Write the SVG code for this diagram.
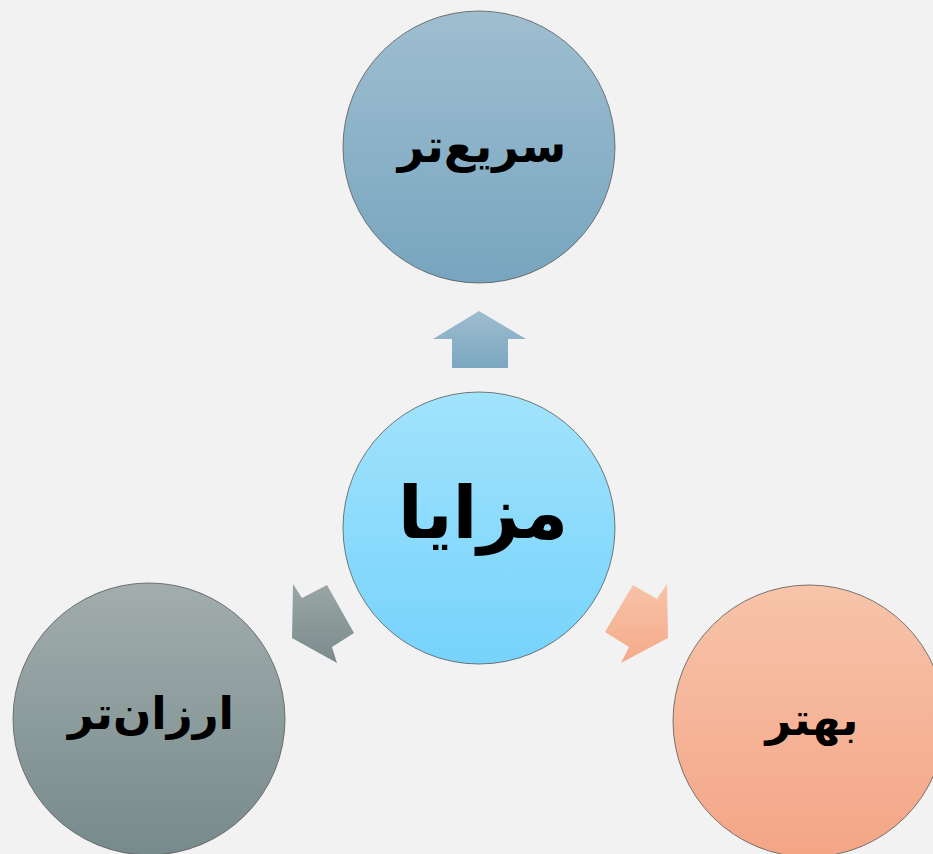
<svg xmlns="http://www.w3.org/2000/svg" width="933" height="854" viewBox="0 0 933 854">
<defs>
<linearGradient id="gTop" x1="0" y1="0" x2="0" y2="1"><stop offset="0" stop-color="#9fbed0"/><stop offset="1" stop-color="#77a5bf"/></linearGradient>
<linearGradient id="gCenter" x1="0" y1="0" x2="0" y2="1"><stop offset="0" stop-color="#a2e3fc"/><stop offset="1" stop-color="#76d3fc"/></linearGradient>
<linearGradient id="gLeft" x1="0" y1="0" x2="0" y2="1"><stop offset="0" stop-color="#a2adad"/><stop offset="1" stop-color="#778a8c"/></linearGradient>
<linearGradient id="gRight" x1="0" y1="0" x2="0" y2="1"><stop offset="0" stop-color="#f7c4aa"/><stop offset="1" stop-color="#f4a586"/></linearGradient>
<linearGradient id="aTop" x1="0" y1="0" x2="0" y2="1"><stop offset="0" stop-color="#9fbdce"/><stop offset="1" stop-color="#7aa7c1"/></linearGradient>
<linearGradient id="aLeft" x1="0" y1="0" x2="0" y2="1"><stop offset="0" stop-color="#9aa6a6"/><stop offset="1" stop-color="#7b8a8b"/></linearGradient>
<linearGradient id="aRight" x1="0" y1="0" x2="0" y2="1"><stop offset="0" stop-color="#f7c3a8"/><stop offset="1" stop-color="#f5aa8a"/></linearGradient>
</defs>
<style>
.node{stroke:#5a5a5a;stroke-width:1;stroke-opacity:0.8}
.lbl{font-family:"DejaVu Sans","Noto Sans",sans-serif;font-weight:bold;fill:#000;text-anchor:middle;dominant-baseline:central}
</style>
<rect width="933" height="854" fill="#f2f2f2"/>
<g id="connectors">
<polygon fill="url(#aTop)" points="479,311 526,339 508,339 508,368 452,368 452,339 433,339"/>
<polygon fill="url(#aLeft)" points="293,584 302,598 327,585 354,633 332,647 337,663 292,638"/>
<polygon fill="url(#aRight)" points="667,584 657,599 633,585 605,632 629,647 621,663 668,638"/>
</g>
<g id="node-top">
<circle class="node" cx="479" cy="147" r="136" fill="url(#gTop)"/>
<text class="lbl" x="482" y="146" font-size="46">سریع‌تر</text>
</g>
<g id="node-center">
<circle class="node" cx="479" cy="528" r="136" fill="url(#gCenter)"/>
<text class="lbl" x="483" y="512" font-size="73">مزایا</text>
</g>
<g id="node-left">
<circle class="node" cx="149" cy="719" r="136" fill="url(#gLeft)"/>
<text class="lbl" x="151" y="713" font-size="45">ارزان‌تر</text>
</g>
<g id="node-right">
<circle class="node" cx="809" cy="721" r="136" fill="url(#gRight)"/>
<text class="lbl" x="812" y="719" font-size="45">بهتر</text>
</g>
</svg>
